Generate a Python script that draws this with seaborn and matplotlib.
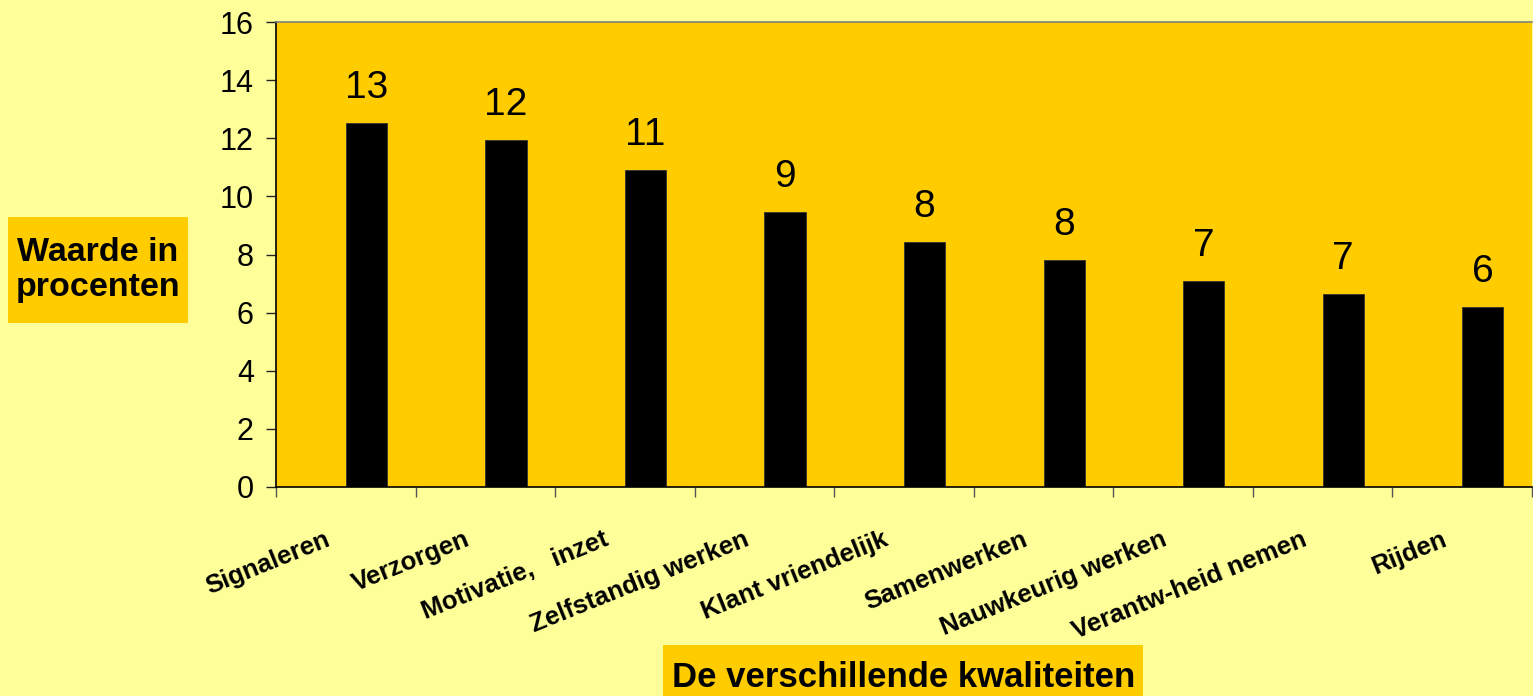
import matplotlib
matplotlib.use("Agg")
import matplotlib.pyplot as plt
import matplotlib.transforms as mtransforms
from matplotlib.patches import Rectangle
import seaborn as sns
import pandas as pd
import numpy as np

categories = ["Signaleren", "Verzorgen", "Motivatie,   inzet", "Zelfstandig werken",
              "Klant vriendelijk", "Samenwerken", "Nauwkeurig werken",
              "Verantw-heid nemen", "Rijden"]
values = [12.53, 11.94, 10.91, 9.47, 8.44, 7.80, 7.09, 6.64, 6.19]
value_labels = ["13", "12", "11", "9", "8", "8", "7", "7", "6"]
y_ticks = [0, 2, 4, 6, 8, 10, 12, 14, 16]
y_title = "Waarde in\nprocenten"
x_title = "De verschillende kwaliteiten"

FIG_BG = "#FFFF99"
PLOT_BG = "#FFCC00"

sns.set_theme(style="white")
plt.rcParams["font.family"] = ["Liberation Sans", "DejaVu Sans"]

W, H = 1533, 696
fig = plt.figure(figsize=(W / 100, H / 100), dpi=100, facecolor=FIG_BG)
ax = fig.add_axes([276 / W, 1 - 487 / H, (1532 - 276) / W, (487 - 22) / H])
ax.set_facecolor(PLOT_BG)

# Two-slot layout (empty first slot) so each bar sits right of its category centre
df = pd.DataFrame({
    "cat": categories * 2,
    "val": [0.0] * len(categories) + values,
    "ser": ["leeg"] * len(categories) + ["waarde"] * len(categories),
})
sns.barplot(data=df, x="cat", y="val", hue="ser", hue_order=["leeg", "waarde"],
            order=categories, palette={"leeg": (0, 0, 0, 0), "waarde": "black"},
            width=0.59, dodge=True, linewidth=0.6, edgecolor="#333333",
            legend=False, ax=ax)
for p in ax.patches:
    if p.get_height() == 0:
        p.set_linewidth(0)

ax.set_xlim(-0.5, len(categories) - 0.5)
ax.set_ylim(0, 16)
ax.set_yticks(y_ticks)
ax.set_yticklabels([str(t) for t in y_ticks])
ax.tick_params(axis="y", left=True, direction="out", length=7, width=1,
               color="#222222", labelsize=22, pad=9, labelcolor="black")

# category boundary ticks
ax.set_xticks(np.arange(-0.5, len(categories) + 0.5, 1), minor=True)
ax.tick_params(axis="x", which="minor", bottom=True, direction="out", length=7,
               width=1, color="#555555")
ax.set_xticks(range(len(categories)))
ax.set_xticklabels(categories, rotation=22, ha="right", rotation_mode="anchor",
                   fontsize=18.5, fontweight="bold", va="center", color="black")
ax.tick_params(axis="x", which="major", length=0, pad=37, labelcolor="black")
offset = mtransforms.ScaledTranslation(-0.17, 0, fig.dpi_scale_trans)
for lbl in ax.get_xticklabels():
    lbl.set_transform(lbl.get_transform() + offset)

ax.set_xlabel("")
ax.set_ylabel("")

for side in ["left", "bottom"]:
    ax.spines[side].set_color("black")
    ax.spines[side].set_linewidth(1.2)
ax.spines["top"].set_color("#808080")
ax.spines["top"].set_linewidth(1.2)
ax.spines["right"].set_visible(False)

# value labels above the bars
bars = [p for p in ax.patches if p.get_height() > 0]
bars.sort(key=lambda p: p.get_x())
for p, lab in zip(bars, value_labels):
    ax.annotate(lab, (p.get_x() + p.get_width() / 2, p.get_height()),
                xytext=(0, 18), textcoords="offset points",
                ha="center", va="baseline", fontsize=28, color="black")

# axis title boxes
fig.patches.append(Rectangle((8 / W, 1 - 323 / H), 180 / W, 106 / H,
                             transform=fig.transFigure, facecolor=PLOT_BG,
                             edgecolor="none", zorder=0))
fig.text(98 / W, 1 - 270 / H, y_title, ha="center", va="center",
         multialignment="center", fontsize=24.5, fontweight="bold",
         linespacing=1.2, color="black")

fig.patches.append(Rectangle((663 / W, 0), (1143 - 663) / W, (696 - 645) / H,
                             transform=fig.transFigure, facecolor=PLOT_BG,
                             edgecolor="none", zorder=0))
fig.text(904 / W, 1 - 687 / H, x_title, ha="center", va="baseline",
         fontsize=25, fontweight="bold", color="black")

fig.savefig("out.png", dpi=100, facecolor=FIG_BG)
